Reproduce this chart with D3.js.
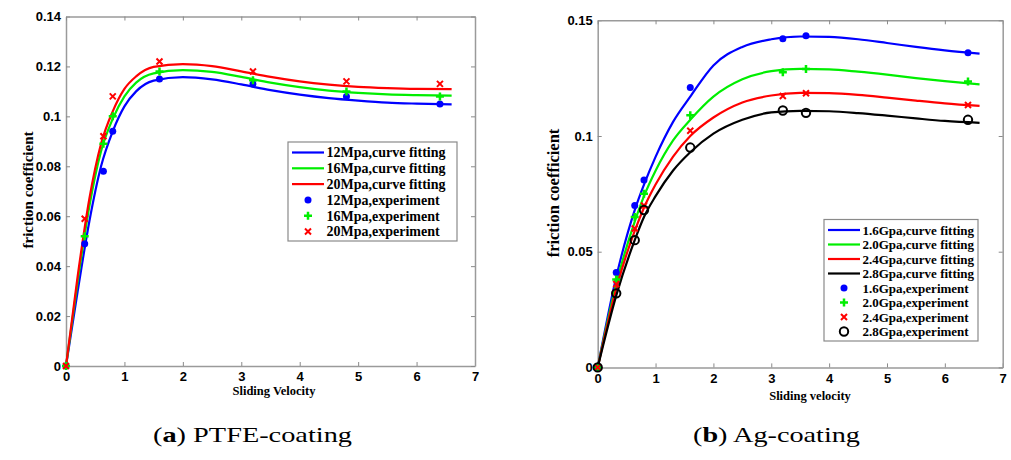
<!DOCTYPE html>
<html>
<head>
  <meta charset="UTF-8">
  <style>
    body { margin: 0; background-color: white; }
    svg { display: block; }
  </style>
</head>
<body>
<svg></svg>
<script src="https://d3js.org/d3.v7.min.js"></script>
<script>

let width = 1011, height = 460;

let svg = d3.select("svg")
    .attr("width", width)
    .attr("height", height);

// ---------- panel (a) PTFE-coating ----------
let expX_a = [0, 0.32, 0.64, 0.8, 1.6, 3.2, 4.8, 6.4];
let exp12 = [0, 0.049, 0.078, 0.094, 0.115, 0.113, 0.108, 0.105];
let exp16 = [0, 0.052, 0.089, 0.100, 0.118, 0.1145, 0.110, 0.108];
let exp20 = [0, 0.059, 0.092, 0.108, 0.122, 0.118, 0.114, 0.113];

let fitX_a = [0, 0.2, 0.4, 0.6, 0.8, 1.0, 1.2, 1.5, 2.0, 2.5, 3.0, 3.5, 4.0, 4.5, 5.0, 5.5, 6.0, 6.6];
let fit12 = [0, 0.030, 0.058, 0.080, 0.094, 0.104, 0.110, 0.1143, 0.1157, 0.1148, 0.1128, 0.1105, 0.1087, 0.1073, 0.1063, 0.1055, 0.1051, 0.1048];
let fit16 = [0, 0.034, 0.064, 0.086, 0.099, 0.108, 0.1135, 0.1172, 0.1185, 0.1178, 0.1158, 0.1135, 0.1117, 0.1103, 0.1094, 0.1088, 0.1085, 0.1083];
let fit20 = [0, 0.036, 0.067, 0.089, 0.102, 0.111, 0.116, 0.1198, 0.1209, 0.1201, 0.118, 0.1158, 0.1140, 0.1127, 0.1118, 0.1113, 0.1110, 0.1109];

// ---------- panel (b) Ag-coating ----------
let expX_b = [0, 0.32, 0.64, 0.8, 1.6, 3.2, 3.6, 6.4];
let exp16G = [0, 0.041, 0.070, 0.081, 0.121, 0.142, 0.1433, 0.136];
let exp20G = [0, 0.038, 0.065, 0.075, 0.109, 0.1275, 0.129, 0.1235];
let exp24G = [0, 0.036, 0.060, 0.070, 0.1023, 0.1173, 0.1185, 0.1134];
let exp28G = [0, 0.032, 0.055, 0.068, 0.095, 0.111, 0.110, 0.107];

let fitX_b = [0, 0.32, 0.64, 0.8, 1.0, 1.3, 1.6, 2.0, 2.5, 3.0, 3.5, 4.0, 4.5, 5.0, 5.5, 6.0, 6.6];
let fit16G = [0, 0.039, 0.068, 0.079, 0.091, 0.106, 0.117, 0.1305, 0.1385, 0.1418, 0.1430, 0.1428, 0.1418, 0.1402, 0.1385, 0.1370, 0.1356];
let fit20G = [0, 0.036, 0.063, 0.074, 0.085, 0.098, 0.107, 0.117, 0.1245, 0.128, 0.129, 0.1288, 0.1278, 0.1265, 0.1250, 0.1237, 0.1223];
let fit24G = [0, 0.034, 0.059, 0.069, 0.079, 0.091, 0.100, 0.108, 0.1145, 0.1175, 0.1186, 0.1185, 0.1178, 0.1166, 0.1153, 0.1141, 0.1130];
let fit28G = [0, 0.031, 0.055, 0.065, 0.074, 0.085, 0.093, 0.101, 0.107, 0.1102, 0.1109, 0.1107, 0.1099, 0.1088, 0.1076, 0.1065, 0.1057];

let xTicks = [0, 1, 2, 3, 4, 5, 6, 7];
let yTicks_a = [0, 0.02, 0.04, 0.06, 0.08, 0.1, 0.12, 0.14];
let yTicks_b = [0, 0.05, 0.1, 0.15];

let serif = "'Liberation Serif', 'Times New Roman', serif";
let sans = "'Liberation Sans', Arial, sans-serif";

let panels = [
  {
    box: [66, 16.5, 475, 366], yMax: 0.14, yTicks: yTicks_a,
    xLabel: "Sliding Velocity", xLabelPos: [274, 395], xLabelSize: 12.5,
    yLabelPos: [28, 190], yLabelSize: 15,
    legend: { x: 288, y: 142, w: 169, h: 99, row: 15.8, size: 14 },
    caption: ["a", " PTFE-coating"], captionPos: [153, 442], captionLen: 199,
    fits: [
      { xs: fitX_a, ys: fit12, color: "#0000ff", name: "12Mpa,curve fitting" },
      { xs: fitX_a, ys: fit16, color: "#00ee00", name: "16Mpa,curve fitting" },
      { xs: fitX_a, ys: fit20, color: "#ff0000", name: "20Mpa,curve fitting" }
    ],
    exps: [
      { xs: expX_a, ys: exp12, color: "#0000ff", mark: "dot", name: "12Mpa,experiment" },
      { xs: expX_a, ys: exp16, color: "#00ee00", mark: "plus", name: "16Mpa,experiment" },
      { xs: expX_a, ys: exp20, color: "#ff0000", mark: "cross", name: "20Mpa,experiment" }
    ]
  },
  {
    box: [597.7, 20.3, 1002.7, 367.4], yMax: 0.15, yTicks: yTicks_b,
    xLabel: "Sliding velocity", xLabelPos: [810, 400], xLabelSize: 12.5,
    yLabelPos: [553, 193], yLabelSize: 16.5,
    legend: { x: 824, y: 219.5, w: 154, h: 121.5, row: 14.5, size: 13 },
    caption: ["b", " Ag-coating"], captionPos: [693, 442], captionLen: 167,
    fits: [
      { xs: fitX_b, ys: fit16G, color: "#0000ff", name: "1.6Gpa,curve fitting" },
      { xs: fitX_b, ys: fit20G, color: "#00ee00", name: "2.0Gpa,curve fitting" },
      { xs: fitX_b, ys: fit24G, color: "#ff0000", name: "2.4Gpa,curve fitting" },
      { xs: fitX_b, ys: fit28G, color: "#000000", name: "2.8Gpa,curve fitting" }
    ],
    exps: [
      { xs: expX_b, ys: exp16G, color: "#0000ff", mark: "dot", name: "1.6Gpa,experiment" },
      { xs: expX_b, ys: exp20G, color: "#00ee00", mark: "plus", name: "2.0Gpa,experiment" },
      { xs: expX_b, ys: exp24G, color: "#ff0000", mark: "cross", name: "2.4Gpa,experiment" },
      { xs: expX_b, ys: exp28G, color: "#000000", mark: "ring", name: "2.8Gpa,experiment" }
    ]
  }
];

// draw one marker symbol into group g at (cx, cy)
function drawMark(g, mark, color, cx, cy) {
  if (mark === "dot") {
    g.append("circle").attr("cx", cx).attr("cy", cy).attr("r", 3.5).attr("fill", color);
  } else if (mark === "plus") {
    g.append("path").attr("d", `M${cx-4},${cy}H${cx+4}M${cx},${cy-4}V${cy+4}`)
      .attr("stroke", color).attr("stroke-width", 2.5).attr("fill", "none");
  } else if (mark === "cross") {
    g.append("path").attr("d", `M${cx-3},${cy-3}L${cx+3},${cy+3}M${cx-3},${cy+3}L${cx+3},${cy-3}`)
      .attr("stroke", color).attr("stroke-width", 2).attr("fill", "none");
  } else if (mark === "ring") {
    g.append("circle").attr("cx", cx).attr("cy", cy).attr("r", 4.2)
      .attr("fill", "none").attr("stroke", color).attr("stroke-width", 2);
  }
}

panels.forEach(p => {
  let [x0, y0, x1, y1] = p.box;
  let x = d3.scaleLinear().domain([0, 7]).range([x0, x1]);
  let y = d3.scaleLinear().domain([0, p.yMax]).range([y1, y0]);
  let fmt = d => d3.format("~g")(d);

  let g = svg.append("g");

  // axes box with inward ticks on all four sides
  let axes = [
    d3.axisBottom(x).tickValues(xTicks).tickFormat(fmt).tickSizeInner(-4).tickSizeOuter(0).tickPadding(6),
    d3.axisLeft(y).tickValues(p.yTicks).tickFormat(fmt).tickSizeInner(-4).tickSizeOuter(0).tickPadding(5),
    d3.axisTop(x).tickValues(xTicks).tickFormat("").tickSizeInner(-4).tickSizeOuter(0),
    d3.axisRight(y).tickValues(p.yTicks).tickFormat("").tickSizeInner(-4).tickSizeOuter(0)
  ];
  let pos = [`translate(0,${y1})`, `translate(${x0},0)`, `translate(0,${y0})`, `translate(${x1},0)`];
  axes.forEach((a, i) => {
    let ag = g.append("g").attr("transform", pos[i]).call(a)
      .attr("font-family", sans).attr("font-size", 13).attr("font-weight", "bold");
    ag.select(".domain").attr("stroke", "#9a9a9a").attr("stroke-width", 1.5);
    ag.selectAll(".tick line").attr("stroke", "#8a8a8a");
    ag.selectAll(".tick text").attr("fill", "#000");
  });

  // curves
  let line = d3.line().curve(d3.curveMonotoneX);
  p.fits.forEach(s => {
    g.append("path")
      .attr("d", line(s.xs.map((v, i) => [x(v), y(s.ys[i])])))
      .attr("fill", "none").attr("stroke", s.color).attr("stroke-width", 2.2);
  });

  // experimental points
  p.exps.forEach(s => {
    s.xs.forEach((v, i) => drawMark(g, s.mark, s.color, x(v), y(s.ys[i])));
  });

  // axis labels
  g.append("text")
    .attr("x", p.xLabelPos[0]).attr("y", p.xLabelPos[1])
    .attr("text-anchor", "middle")
    .attr("font-family", serif).attr("font-weight", "bold").attr("font-size", p.xLabelSize)
    .text(p.xLabel);

  g.append("text")
    .attr("transform", `translate(${p.yLabelPos[0]},${p.yLabelPos[1]}) rotate(-90)`)
    .attr("text-anchor", "middle").attr("dy", "0.35em")
    .attr("font-family", serif).attr("font-weight", "bold").attr("font-size", p.yLabelSize)
    .text("friction coefficient");

  // legend
  let L = p.legend;
  let lg = g.append("g");
  lg.append("rect").attr("x", L.x).attr("y", L.y).attr("width", L.w).attr("height", L.h)
    .attr("fill", "white").attr("stroke", "#8a8a8a").attr("stroke-width", 1.2);
  let entries = p.fits.map(s => ({ type: "line", ...s })).concat(p.exps.map(s => ({ type: "mark", ...s })));
  entries.forEach((e, i) => {
    let cy = L.y + 10.5 + i * L.row;
    if (e.type === "line") {
      lg.append("line").attr("x1", L.x + 4).attr("x2", L.x + 36).attr("y1", cy).attr("y2", cy)
        .attr("stroke", e.color).attr("stroke-width", 2.2);
    } else {
      drawMark(lg, e.mark, e.color, L.x + 20, cy);
    }
    lg.append("text").attr("x", L.x + 38.5).attr("y", cy).attr("dy", "0.35em")
      .attr("font-family", serif).attr("font-weight", "bold").attr("font-size", L.size)
      .attr("fill", "#000")
      .text(e.name);
  });

  // caption under the panel
  let cap = svg.append("text")
    .attr("x", p.captionPos[0]).attr("y", p.captionPos[1])
    .attr("textLength", p.captionLen).attr("lengthAdjust", "spacingAndGlyphs")
    .attr("font-family", serif).attr("font-size", 22);
  cap.append("tspan").text("(");
  cap.append("tspan").attr("font-weight", "bold").text(p.caption[0]);
  cap.append("tspan").text(")" + p.caption[1]);
});

</script>
</body>
</html>
